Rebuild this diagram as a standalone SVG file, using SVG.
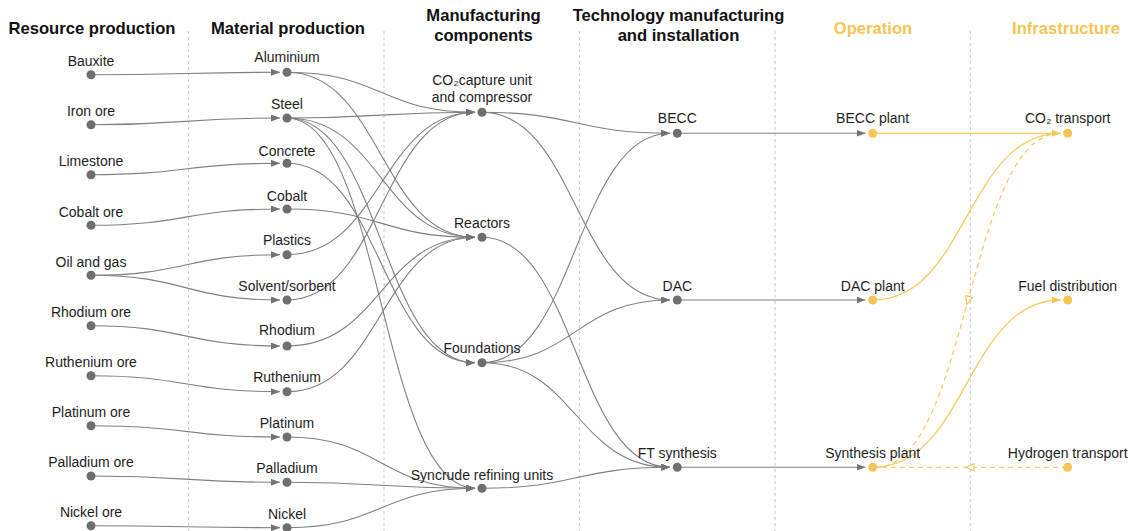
<svg xmlns="http://www.w3.org/2000/svg" width="1141" height="531" viewBox="0 0 1141 531">
<style>
text{font-family:"Liberation Sans",Arial,sans-serif;font-size:14px;fill:#1e1e1e;text-anchor:middle}
.h{font-size:16.6px;font-weight:bold;fill:#111}
.hy{font-size:16.6px;font-weight:bold;fill:#F6C555}
.sep{stroke:#c9c9c9;stroke-width:1;stroke-dasharray:3 3;fill:none}
.e{fill:none;stroke:#808080;stroke-width:1.1;marker-end:url(#ag)}
.ey{fill:none;stroke:#F7CB63;stroke-width:1.3;marker-end:url(#ay)}
.ed{fill:none;stroke:#F7CB63;stroke-width:1.3;stroke-dasharray:5 4;marker-mid:url(#ao)}
.n circle{fill:#6e6e6e}
.ny circle{fill:#F6C555}
</style>
<defs>
<marker id="ag" markerUnits="userSpaceOnUse" markerWidth="9" markerHeight="7" refX="9" refY="3.5" orient="auto"><path d="M0,0 L9,3.5 L0,7 z" fill="#737373"/></marker>
<marker id="ay" markerUnits="userSpaceOnUse" markerWidth="9" markerHeight="7" refX="9" refY="3.5" orient="auto"><path d="M0,0 L9,3.5 L0,7 z" fill="#F6C555"/></marker>
<marker id="ao" markerUnits="userSpaceOnUse" markerWidth="12" markerHeight="10" refX="5" refY="5" orient="auto"><path d="M1,1.5 L9,5 L1,8.5 z" fill="#fff" stroke="#F6C555" stroke-width="1.1"/></marker>
</defs>
<rect width="1141" height="531" fill="#fff"/>

<g id="separators">
<line class="sep" x1="188.7" y1="31" x2="188.7" y2="531"/>
<line class="sep" x1="384" y1="31" x2="384" y2="531"/>
<line class="sep" x1="579.3" y1="31" x2="579.3" y2="531"/>
<line class="sep" x1="775" y1="31" x2="775" y2="531"/>
<line class="sep" x1="970.3" y1="31" x2="970.3" y2="531"/>
</g>

<g id="headers">
<text class="h" x="92" y="34">Resource production</text>
<text class="h" x="288" y="34">Material production</text>
<text class="h" x="483.5" y="21">Manufacturing</text>
<text class="h" x="483.5" y="41">components</text>
<text class="h" x="678.5" y="21">Technology manufacturing</text>
<text class="h" x="678.5" y="41">and installation</text>
<text class="hy" x="873" y="34">Operation</text>
<text class="hy" x="1066" y="34">Infrastructure</text>
</g>

<g id="connectors">
<path class="e" d="M91,74.7 C185.5,74.7 185.5,72.3 280,72.3"/>
<path class="e" d="M91,124.7 C185.5,124.7 185.5,118 280,118"/>
<path class="e" d="M91,174.7 C185.5,174.7 185.5,163.3 280,163.3"/>
<path class="e" d="M91,225.3 C185.5,225.3 185.5,209 280,209"/>
<path class="e" d="M91,275.3 C185.5,275.3 185.5,254.7 280,254.7"/>
<path class="e" d="M91,275.3 C185.5,275.3 185.5,300 280,300"/>
<path class="e" d="M91,325.7 C185.5,325.7 185.5,346 280,346"/>
<path class="e" d="M91,375.7 C185.5,375.7 185.5,391.7 280,391.7"/>
<path class="e" d="M91,425.7 C185.5,425.7 185.5,437 280,437"/>
<path class="e" d="M91,476 C185.5,476 185.5,482.3 280,482.3"/>
<path class="e" d="M91,525.7 C185.5,525.7 185.5,527.7 280,527.7"/>

<path class="e" d="M287,72.3 C381,72.3 381,112.3 475,112.3"/>
<path class="e" d="M287,72.3 C381,72.3 381,237.3 475,237.3"/>
<path class="e" d="M287,118 C381,118 381,112.3 475,112.3"/>
<path class="e" d="M287,118 C381,118 381,237.3 475,237.3"/>
<path class="e" d="M287,118 C381,118 381,362.7 475,362.7"/>
<path class="e" d="M287,118 C381,118 381,488.3 475,488.3"/>
<path class="e" d="M287,163.3 C381,163.3 381,362.7 475,362.7"/>
<path class="e" d="M287,209 C381,209 381,237.3 475,237.3"/>
<path class="e" d="M287,254.7 C381,254.7 381,112.3 475,112.3"/>
<path class="e" d="M287,300 C381,300 381,112.3 475,112.3"/>
<path class="e" d="M287,346 C381,346 381,237.3 475,237.3"/>
<path class="e" d="M287,391.7 C381,391.7 381,237.3 475,237.3"/>
<path class="e" d="M287,437 C381,437 381,488.3 475,488.3"/>
<path class="e" d="M287,482.3 C381,482.3 381,488.3 475,488.3"/>
<path class="e" d="M287,527.7 C381,527.7 381,488.3 475,488.3"/>

<path class="e" d="M482,112.3 C576,112.3 576,133.3 670,133.3"/>
<path class="e" d="M482,112.3 C576,112.3 576,300 670,300"/>
<path class="e" d="M482,237.3 C576,237.3 576,467.3 670,467.3"/>
<path class="e" d="M482,362.7 C576,362.7 576,133.3 670,133.3"/>
<path class="e" d="M482,362.7 C576,362.7 576,300 670,300"/>
<path class="e" d="M482,362.7 C576,362.7 576,467.3 670,467.3"/>
<path class="e" d="M482,488.3 C576,488.3 576,467.3 670,467.3"/>

<path class="e" d="M677,133.3 L865.5,133.3"/>
<path class="e" d="M677,300 L865.5,300"/>
<path class="e" d="M677,467.3 L865.5,467.3"/>

<path class="ey" d="M873,133.3 L1060.5,133.3"/>
<path class="ey" d="M873,300 C966.7,300 966.7,133.3 1060.5,133.3"/>
<path class="ey" d="M873,467.3 C966.7,467.3 966.7,300 1060.5,300"/>
<path class="ed" d="M1060,133.3 C1014,133.3 991,216.8 968,300.3 C945,383.8 922,467.3 876,467.3"/>
<path class="ed" d="M1067,467.3 L970,467.3 L873,467.3"/>
</g>

<g id="node-bauxite" class="n"><circle cx="91" cy="74.7" r="4.5"/><text x="91" y="66">Bauxite</text></g>
<g id="node-iron-ore" class="n"><circle cx="91" cy="124.7" r="4.5"/><text x="91" y="116">Iron ore</text></g>
<g id="node-limestone" class="n"><circle cx="91" cy="174.7" r="4.5"/><text x="91" y="166">Limestone</text></g>
<g id="node-cobalt-ore" class="n"><circle cx="91" cy="225.3" r="4.5"/><text x="91" y="216.5">Cobalt ore</text></g>
<g id="node-oil-gas" class="n"><circle cx="91" cy="275.3" r="4.5"/><text x="91" y="266.5">Oil and gas</text></g>
<g id="node-rhodium-ore" class="n"><circle cx="91" cy="325.7" r="4.5"/><text x="91" y="317">Rhodium ore</text></g>
<g id="node-ruthenium-ore" class="n"><circle cx="91" cy="375.7" r="4.5"/><text x="91" y="366.5">Ruthenium ore</text></g>
<g id="node-platinum-ore" class="n"><circle cx="91" cy="425.7" r="4.5"/><text x="91" y="417">Platinum ore</text></g>
<g id="node-palladium-ore" class="n"><circle cx="91" cy="476" r="4.5"/><text x="91" y="467">Palladium ore</text></g>
<g id="node-nickel-ore" class="n"><circle cx="91" cy="525.7" r="4.5"/><text x="91" y="517">Nickel ore</text></g>

<g id="node-aluminium" class="n"><circle cx="287" cy="72.3" r="4.5"/><text x="287" y="62.3">Aluminium</text></g>
<g id="node-steel" class="n"><circle cx="287" cy="118" r="4.5"/><text x="287" y="109.3">Steel</text></g>
<g id="node-concrete" class="n"><circle cx="287" cy="163.3" r="4.5"/><text x="287" y="155.5">Concrete</text></g>
<g id="node-cobalt" class="n"><circle cx="287" cy="209" r="4.5"/><text x="287" y="200.7">Cobalt</text></g>
<g id="node-plastics" class="n"><circle cx="287" cy="254.7" r="4.5"/><text x="287" y="245">Plastics</text></g>
<g id="node-solvent" class="n"><circle cx="287" cy="300" r="4.5"/><text x="287" y="291">Solvent/sorbent</text></g>
<g id="node-rhodium" class="n"><circle cx="287" cy="346" r="4.5"/><text x="287" y="335">Rhodium</text></g>
<g id="node-ruthenium" class="n"><circle cx="287" cy="391.7" r="4.5"/><text x="287" y="381.7">Ruthenium</text></g>
<g id="node-platinum" class="n"><circle cx="287" cy="437" r="4.5"/><text x="287" y="428.3">Platinum</text></g>
<g id="node-palladium" class="n"><circle cx="287" cy="482.3" r="4.5"/><text x="287" y="473.3">Palladium</text></g>
<g id="node-nickel" class="n"><circle cx="287" cy="527.7" r="4.5"/><text x="287" y="519.3">Nickel</text></g>

<g id="node-co2-capture" class="n"><circle cx="482" cy="112.3" r="4.5"/><text x="482" y="84.5">CO₂capture unit</text><text x="482" y="101.5">and compressor</text></g>
<g id="node-reactors" class="n"><circle cx="482" cy="237.3" r="4.5"/><text x="482" y="227.7">Reactors</text></g>
<g id="node-foundations" class="n"><circle cx="482" cy="362.7" r="4.5"/><text x="482" y="353.3">Foundations</text></g>
<g id="node-syncrude" class="n"><circle cx="482" cy="488.3" r="4.5"/><text x="482" y="479.5">Syncrude refining units</text></g>

<g id="node-becc" class="n"><circle cx="677.3" cy="133.3" r="4.5"/><text x="677.3" y="123.3">BECC</text></g>
<g id="node-dac" class="n"><circle cx="677.3" cy="300" r="4.5"/><text x="677.3" y="291">DAC</text></g>
<g id="node-ft" class="n"><circle cx="677.3" cy="467.3" r="4.5"/><text x="677.3" y="458">FT synthesis</text></g>

<g id="node-becc-plant" class="ny"><circle cx="872.7" cy="133.3" r="4.5"/><text x="872.7" y="122.5">BECC plant</text></g>
<g id="node-dac-plant" class="ny"><circle cx="872.7" cy="300" r="4.5"/><text x="872.7" y="290.5">DAC plant</text></g>
<g id="node-synthesis-plant" class="ny"><circle cx="872.7" cy="467.3" r="4.5"/><text x="872.7" y="458">Synthesis plant</text></g>

<g id="node-co2-transport" class="ny"><circle cx="1067.7" cy="133.3" r="4.5"/><text x="1067.7" y="122.5">CO₂ transport</text></g>
<g id="node-fuel-distribution" class="ny"><circle cx="1067.7" cy="300" r="4.5"/><text x="1067.7" y="290.5">Fuel distribution</text></g>
<g id="node-hydrogen-transport" class="ny"><circle cx="1067.7" cy="467.3" r="4.5"/><text x="1067.7" y="458">Hydrogen transport</text></g>
</svg>
